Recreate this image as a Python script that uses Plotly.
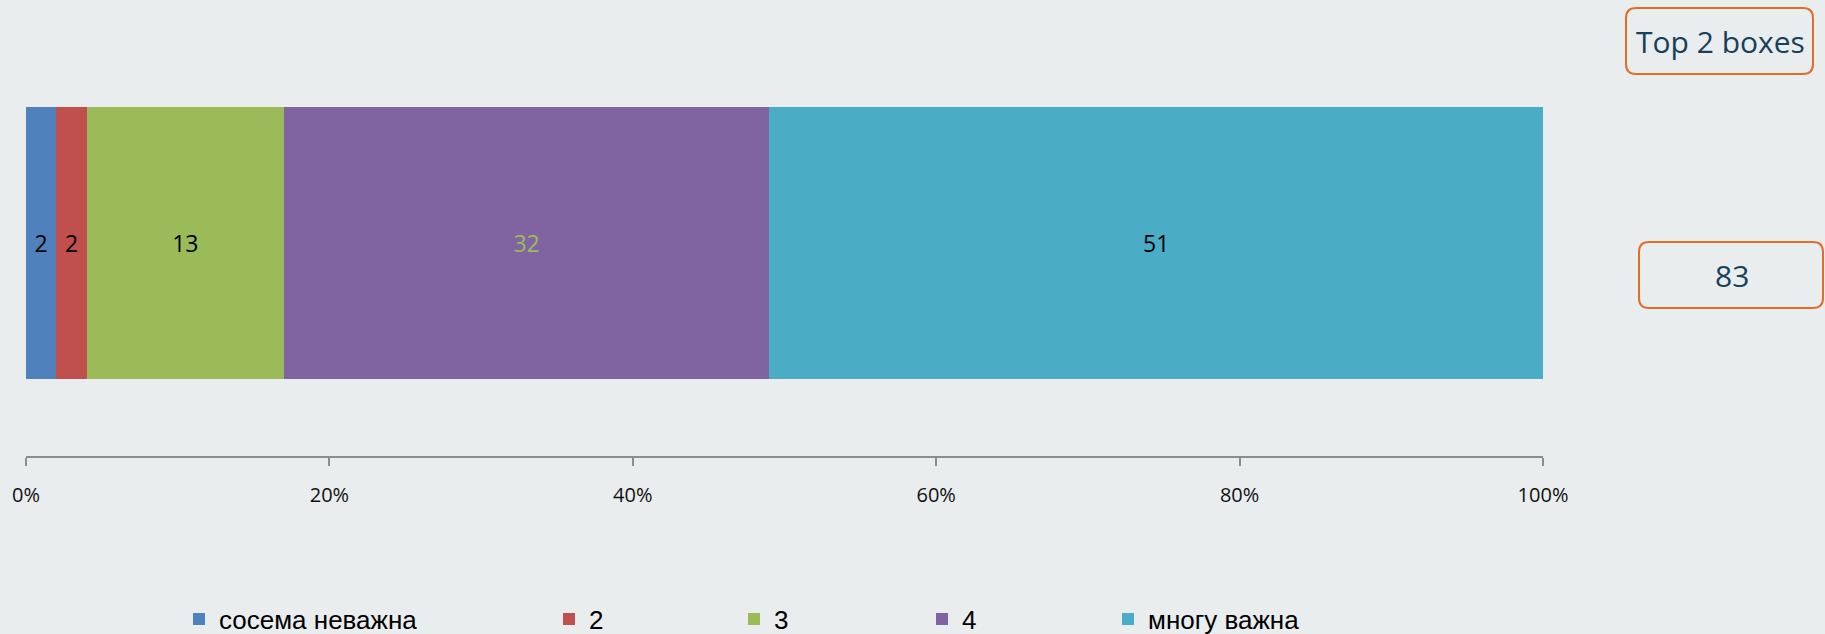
import plotly.graph_objects as go

# ---- data ----
categories = ["сосема неважна", "2", "3", "4", "многу важна"]
values = [2, 2, 13, 32, 51]
colors = ["#4f81bd", "#c0504d", "#9bbb59", "#8064a2", "#4bacc6"]
label_colors = ["#000000", "#000000", "#000000", "#9bbb59", "#000000"]
tick_vals = [0, 20, 40, 60, 80, 100]
tick_text = ["0%", "20%", "40%", "60%", "80%", "100%"]
top2_title = "Top 2 boxes"
top2_value = values[3] + values[4]

W, H = 1825, 634
L, R = 26, 1543
T, B = 30, 456
pw, ph = R - L, B - T

def px(x):
    return (x - L) / pw

def py(y):
    return (B - y) / ph

BG = "#e9edee"
ORANGE = "#e46c2a"
DARK = "#17405a"

fig = go.Figure()
legend_left_px = [179, 549, 734, 922, 1108]
legend_names = ["legend", "legend2", "legend3", "legend4", "legend5"]
for i, (cat, v) in enumerate(zip(categories, values)):
    fig.add_trace(go.Bar(
        y=[""], x=[v], orientation="h", name=cat,
        marker=dict(color=colors[i], line=dict(width=0)),
        width=0.6385,
        text=[str(v)], textposition="inside", insidetextanchor="middle",
        textangle=0,
        textfont=dict(family="Open Sans, sans-serif", size=23, color=label_colors[i]),
        legend=legend_names[i], hoverinfo="skip",
    ))

layout_legends = {}
for i, name in enumerate(legend_names):
    layout_legends[name] = dict(
        x=px(legend_left_px[i]), xanchor="left",
        y=py(619), yanchor="middle",
        orientation="h", bgcolor="rgba(0,0,0,0)",
        font=dict(family="Liberation Sans Narrow, Arial Narrow, Liberation Sans, sans-serif",
                  size=26, color="#000000"),
    )

def rounded_rect(x0, y0, x1, y1, r=10):
    def P(x, y):
        return f"{px(x):.6f},{py(y):.6f}"
    path = (f"M {P(x0 + r, y0)} L {P(x1 - r, y0)} Q {P(x1, y0)} {P(x1, y0 + r)} "
            f"L {P(x1, y1 - r)} Q {P(x1, y1)} {P(x1 - r, y1)} "
            f"L {P(x0 + r, y1)} Q {P(x0, y1)} {P(x0, y1 - r)} "
            f"L {P(x0, y0 + r)} Q {P(x0, y0)} {P(x0 + r, y0)} Z")
    return dict(type="path", xref="paper", yref="paper", path=path,
                line=dict(color=ORANGE, width=2), fillcolor="rgba(0,0,0,0)", layer="above")

shapes = [rounded_rect(1626, 8, 1813, 74), rounded_rect(1639, 242, 1823, 308)]

annotations = [
    dict(x=px(1720), y=py(41), xref="paper", yref="paper", text=top2_title,
         showarrow=False, xanchor="center", yanchor="middle",
         font=dict(family="Open Sans, sans-serif", size=30, color=DARK)),
    dict(x=px(1732), y=py(275), xref="paper", yref="paper", text=str(top2_value),
         showarrow=False, xanchor="center", yanchor="middle",
         font=dict(family="Open Sans, sans-serif", size=30, color=DARK)),
]

fig.update_layout(
    width=W, height=H,
    barmode="stack",
    paper_bgcolor=BG, plot_bgcolor=BG,
    margin=dict(l=L, r=W - R, t=T, b=H - B, pad=0, autoexpand=False),
    showlegend=True,
    shapes=shapes, annotations=annotations,
    xaxis=dict(range=[0, 100], tickvals=tick_vals, ticktext=tick_text,
               showgrid=False, zeroline=False, showline=True, linecolor="#8c8c8c",
               linewidth=2, ticks="outside", ticklen=8, tickwidth=2, tickcolor="#8c8c8c",
               ticklabelstandoff=12,
               tickfont=dict(family="Open Sans, sans-serif", size=20, color="#111111"),
               fixedrange=True, automargin=False),
    yaxis=dict(range=[-0.5, 0.5], showgrid=False, zeroline=False, showline=False,
               showticklabels=False, ticks="", fixedrange=True, automargin=False),
    **layout_legends,
)

fig.write_html(
    "out.html",
    config={"displayModeBar": False},
    post_script="document.body.style.margin='0';document.body.style.background='" + BG + "';",
)
